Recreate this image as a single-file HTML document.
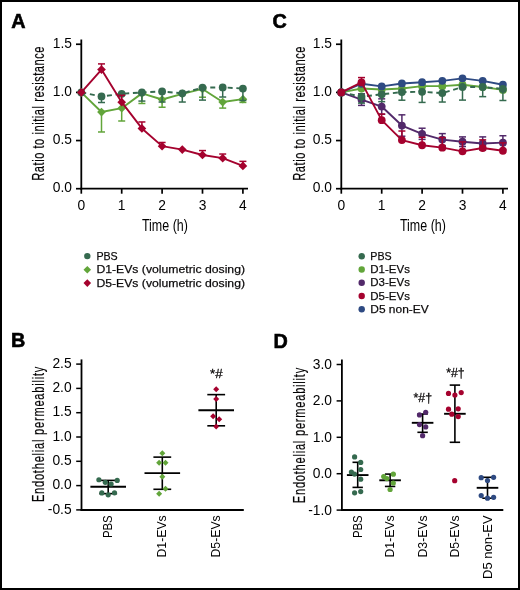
<!DOCTYPE html>
<html><head><meta charset="utf-8"><title>Figure</title>
<style>html,body{margin:0;padding:0;background:#fff;width:520px;height:590px;overflow:hidden;}svg{display:block;will-change:transform;font-family:"Liberation Sans", sans-serif;}</style>
</head><body>
<svg width="520" height="590" viewBox="0 0 520 590" font-family='"Liberation Sans", sans-serif'>
<rect x="1" y="1" width="518" height="588" fill="#fff" stroke="#000" stroke-width="2"/>
<text x="11.30" y="27.70" font-size="19.8" text-anchor="start" font-weight="bold" fill="#000" stroke="#000" stroke-width="0.6">A</text>
<line x1="81.30" y1="39.50" x2="81.30" y2="189.60" stroke="#000" stroke-width="1.8"/>
<line x1="80.40" y1="188.70" x2="248.00" y2="188.70" stroke="#000" stroke-width="1.8"/>
<line x1="76.00" y1="188.70" x2="81.30" y2="188.70" stroke="#000" stroke-width="1.7"/>
<text x="71.90" y="192.40" font-size="13.8" text-anchor="end">0.0</text>
<line x1="76.00" y1="140.55" x2="81.30" y2="140.55" stroke="#000" stroke-width="1.7"/>
<text x="71.90" y="144.25" font-size="13.8" text-anchor="end">0.5</text>
<line x1="76.00" y1="92.40" x2="81.30" y2="92.40" stroke="#000" stroke-width="1.7"/>
<text x="71.90" y="96.10" font-size="13.8" text-anchor="end">1.0</text>
<line x1="76.00" y1="44.25" x2="81.30" y2="44.25" stroke="#000" stroke-width="1.7"/>
<text x="71.90" y="47.95" font-size="13.8" text-anchor="end">1.5</text>
<line x1="81.30" y1="188.70" x2="81.30" y2="193.70" stroke="#000" stroke-width="1.7"/>
<text x="81.30" y="210.10" font-size="13.8" text-anchor="middle">0</text>
<line x1="121.70" y1="188.70" x2="121.70" y2="193.70" stroke="#000" stroke-width="1.7"/>
<text x="121.70" y="210.10" font-size="13.8" text-anchor="middle">1</text>
<line x1="162.10" y1="188.70" x2="162.10" y2="193.70" stroke="#000" stroke-width="1.7"/>
<text x="162.10" y="210.10" font-size="13.8" text-anchor="middle">2</text>
<line x1="202.50" y1="188.70" x2="202.50" y2="193.70" stroke="#000" stroke-width="1.7"/>
<text x="202.50" y="210.10" font-size="13.8" text-anchor="middle">3</text>
<line x1="242.90" y1="188.70" x2="242.90" y2="193.70" stroke="#000" stroke-width="1.7"/>
<text x="242.90" y="210.10" font-size="13.8" text-anchor="middle">4</text>
<text x="164.90" y="231.00" font-size="15.8" text-anchor="middle" textLength="46" lengthAdjust="spacingAndGlyphs">Time (h)</text>
<g transform="translate(44.20 180.70) rotate(-90) scale(0.7 1)"><text x="0" y="0" font-size="15.8" text-anchor="start" textLength="191.71" lengthAdjust="spacing" stroke="#231f20" stroke-width="0.2">Ratio to initial resistance</text></g>
<line x1="101.50" y1="112.05" x2="101.50" y2="131.98" stroke="#62a53a" stroke-width="1.5"/>
<line x1="98.00" y1="131.98" x2="105.00" y2="131.98" stroke="#62a53a" stroke-width="1.5"/>
<line x1="121.70" y1="108.19" x2="121.70" y2="121.00" stroke="#62a53a" stroke-width="1.5"/>
<line x1="118.20" y1="121.00" x2="125.20" y2="121.00" stroke="#62a53a" stroke-width="1.5"/>
<line x1="141.90" y1="93.36" x2="141.90" y2="103.47" stroke="#62a53a" stroke-width="1.5"/>
<line x1="138.40" y1="103.47" x2="145.40" y2="103.47" stroke="#62a53a" stroke-width="1.5"/>
<line x1="162.10" y1="99.53" x2="162.10" y2="107.23" stroke="#62a53a" stroke-width="1.5"/>
<line x1="158.60" y1="107.23" x2="165.60" y2="107.23" stroke="#62a53a" stroke-width="1.5"/>
<line x1="202.50" y1="88.93" x2="202.50" y2="97.21" stroke="#62a53a" stroke-width="1.5"/>
<line x1="199.00" y1="97.21" x2="206.00" y2="97.21" stroke="#62a53a" stroke-width="1.5"/>
<line x1="222.70" y1="102.03" x2="222.70" y2="108.10" stroke="#62a53a" stroke-width="1.5"/>
<line x1="219.20" y1="108.10" x2="226.20" y2="108.10" stroke="#62a53a" stroke-width="1.5"/>
<line x1="242.90" y1="99.14" x2="242.90" y2="102.42" stroke="#62a53a" stroke-width="1.5"/>
<line x1="239.40" y1="102.42" x2="246.40" y2="102.42" stroke="#62a53a" stroke-width="1.5"/>
<path d="M81.30 92.40L101.50 112.05L121.70 108.19L141.90 93.36L162.10 99.53L182.30 93.84L202.50 88.93L222.70 102.03L242.90 99.14" fill="none" stroke="#62a53a" stroke-width="1.9" stroke-linejoin="round"/>
<path d="M81.30 88.05L85.65 92.40L81.30 96.75L76.95 92.40Z" fill="#62a53a"/>
<path d="M101.50 107.70L105.85 112.05L101.50 116.40L97.15 112.05Z" fill="#62a53a"/>
<path d="M121.70 103.84L126.05 108.19L121.70 112.54L117.35 108.19Z" fill="#62a53a"/>
<path d="M141.90 89.01L146.25 93.36L141.90 97.71L137.55 93.36Z" fill="#62a53a"/>
<path d="M162.10 95.18L166.45 99.53L162.10 103.88L157.75 99.53Z" fill="#62a53a"/>
<path d="M182.30 89.49L186.65 93.84L182.30 98.19L177.95 93.84Z" fill="#62a53a"/>
<path d="M202.50 84.58L206.85 88.93L202.50 93.28L198.15 88.93Z" fill="#62a53a"/>
<path d="M222.70 97.68L227.05 102.03L222.70 106.38L218.35 102.03Z" fill="#62a53a"/>
<path d="M242.90 94.79L247.25 99.14L242.90 103.49L238.55 99.14Z" fill="#62a53a"/>
<line x1="101.50" y1="96.44" x2="101.50" y2="102.51" stroke="#356a4f" stroke-width="1.5"/>
<line x1="98.00" y1="102.51" x2="105.00" y2="102.51" stroke="#356a4f" stroke-width="1.5"/>
<line x1="141.90" y1="92.40" x2="141.90" y2="101.07" stroke="#356a4f" stroke-width="1.5"/>
<line x1="138.40" y1="101.07" x2="145.40" y2="101.07" stroke="#356a4f" stroke-width="1.5"/>
<line x1="162.10" y1="91.44" x2="162.10" y2="102.03" stroke="#356a4f" stroke-width="1.5"/>
<line x1="158.60" y1="102.03" x2="165.60" y2="102.03" stroke="#356a4f" stroke-width="1.5"/>
<line x1="182.30" y1="93.36" x2="182.30" y2="102.03" stroke="#356a4f" stroke-width="1.5"/>
<line x1="178.80" y1="102.03" x2="185.80" y2="102.03" stroke="#356a4f" stroke-width="1.5"/>
<line x1="202.50" y1="87.58" x2="202.50" y2="100.10" stroke="#356a4f" stroke-width="1.5"/>
<line x1="199.00" y1="100.10" x2="206.00" y2="100.10" stroke="#356a4f" stroke-width="1.5"/>
<line x1="222.70" y1="87.39" x2="222.70" y2="97.02" stroke="#356a4f" stroke-width="1.5"/>
<line x1="219.20" y1="97.02" x2="226.20" y2="97.02" stroke="#356a4f" stroke-width="1.5"/>
<line x1="242.90" y1="88.55" x2="242.90" y2="100.49" stroke="#356a4f" stroke-width="1.5"/>
<line x1="239.40" y1="100.49" x2="246.40" y2="100.49" stroke="#356a4f" stroke-width="1.5"/>
<path d="M81.30 92.40L101.50 96.44L121.70 93.84L141.90 92.40L162.10 91.44L182.30 93.36L202.50 87.58L222.70 87.39L242.90 88.55" fill="none" stroke="#356a4f" stroke-width="1.9" stroke-linejoin="round" stroke-dasharray="5 3.7"/>
<circle cx="81.30" cy="92.40" r="3.9" fill="#356a4f"/>
<circle cx="101.50" cy="96.44" r="3.9" fill="#356a4f"/>
<circle cx="121.70" cy="93.84" r="3.9" fill="#356a4f"/>
<circle cx="141.90" cy="92.40" r="3.9" fill="#356a4f"/>
<circle cx="162.10" cy="91.44" r="3.9" fill="#356a4f"/>
<circle cx="182.30" cy="93.36" r="3.9" fill="#356a4f"/>
<circle cx="202.50" cy="87.58" r="3.9" fill="#356a4f"/>
<circle cx="222.70" cy="87.39" r="3.9" fill="#356a4f"/>
<circle cx="242.90" cy="88.55" r="3.9" fill="#356a4f"/>
<line x1="101.50" y1="69.58" x2="101.50" y2="63.90" stroke="#a5022e" stroke-width="1.5"/>
<line x1="98.00" y1="63.90" x2="105.00" y2="63.90" stroke="#a5022e" stroke-width="1.5"/>
<line x1="121.70" y1="102.13" x2="121.70" y2="95.29" stroke="#a5022e" stroke-width="1.5"/>
<line x1="118.20" y1="95.29" x2="125.20" y2="95.29" stroke="#a5022e" stroke-width="1.5"/>
<line x1="141.90" y1="128.42" x2="141.90" y2="121.96" stroke="#a5022e" stroke-width="1.5"/>
<line x1="138.40" y1="121.96" x2="145.40" y2="121.96" stroke="#a5022e" stroke-width="1.5"/>
<line x1="162.10" y1="146.14" x2="162.10" y2="142.48" stroke="#a5022e" stroke-width="1.5"/>
<line x1="158.60" y1="142.48" x2="165.60" y2="142.48" stroke="#a5022e" stroke-width="1.5"/>
<line x1="202.50" y1="155.00" x2="202.50" y2="150.57" stroke="#a5022e" stroke-width="1.5"/>
<line x1="199.00" y1="150.57" x2="206.00" y2="150.57" stroke="#a5022e" stroke-width="1.5"/>
<line x1="222.70" y1="158.17" x2="222.70" y2="154.03" stroke="#a5022e" stroke-width="1.5"/>
<line x1="219.20" y1="154.03" x2="226.20" y2="154.03" stroke="#a5022e" stroke-width="1.5"/>
<line x1="242.90" y1="165.97" x2="242.90" y2="161.35" stroke="#a5022e" stroke-width="1.5"/>
<line x1="239.40" y1="161.35" x2="246.40" y2="161.35" stroke="#a5022e" stroke-width="1.5"/>
<path d="M81.30 92.40L101.50 69.58L121.70 102.13L141.90 128.42L162.10 146.14L182.30 149.60L202.50 155.00L222.70 158.17L242.90 165.97" fill="none" stroke="#a5022e" stroke-width="1.9" stroke-linejoin="round"/>
<path d="M81.30 88.05L85.65 92.40L81.30 96.75L76.95 92.40Z" fill="#a5022e"/>
<path d="M101.50 65.23L105.85 69.58L101.50 73.93L97.15 69.58Z" fill="#a5022e"/>
<path d="M121.70 97.78L126.05 102.13L121.70 106.48L117.35 102.13Z" fill="#a5022e"/>
<path d="M141.90 124.07L146.25 128.42L141.90 132.77L137.55 128.42Z" fill="#a5022e"/>
<path d="M162.10 141.79L166.45 146.14L162.10 150.49L157.75 146.14Z" fill="#a5022e"/>
<path d="M182.30 145.25L186.65 149.60L182.30 153.95L177.95 149.60Z" fill="#a5022e"/>
<path d="M202.50 150.65L206.85 155.00L202.50 159.34L198.15 155.00Z" fill="#a5022e"/>
<path d="M222.70 153.82L227.05 158.17L222.70 162.52L218.35 158.17Z" fill="#a5022e"/>
<path d="M242.90 161.62L247.25 165.97L242.90 170.32L238.55 165.97Z" fill="#a5022e"/>
<text x="272.50" y="27.70" font-size="19.8" text-anchor="start" font-weight="bold" fill="#000" stroke="#000" stroke-width="0.6">C</text>
<line x1="341.30" y1="39.50" x2="341.30" y2="189.60" stroke="#000" stroke-width="1.8"/>
<line x1="340.40" y1="188.70" x2="508.00" y2="188.70" stroke="#000" stroke-width="1.8"/>
<line x1="336.00" y1="188.70" x2="341.30" y2="188.70" stroke="#000" stroke-width="1.7"/>
<text x="331.90" y="192.40" font-size="13.8" text-anchor="end">0.0</text>
<line x1="336.00" y1="140.55" x2="341.30" y2="140.55" stroke="#000" stroke-width="1.7"/>
<text x="331.90" y="144.25" font-size="13.8" text-anchor="end">0.5</text>
<line x1="336.00" y1="92.40" x2="341.30" y2="92.40" stroke="#000" stroke-width="1.7"/>
<text x="331.90" y="96.10" font-size="13.8" text-anchor="end">1.0</text>
<line x1="336.00" y1="44.25" x2="341.30" y2="44.25" stroke="#000" stroke-width="1.7"/>
<text x="331.90" y="47.95" font-size="13.8" text-anchor="end">1.5</text>
<line x1="341.30" y1="188.70" x2="341.30" y2="193.70" stroke="#000" stroke-width="1.7"/>
<text x="341.30" y="210.10" font-size="13.8" text-anchor="middle">0</text>
<line x1="381.70" y1="188.70" x2="381.70" y2="193.70" stroke="#000" stroke-width="1.7"/>
<text x="381.70" y="210.10" font-size="13.8" text-anchor="middle">1</text>
<line x1="422.10" y1="188.70" x2="422.10" y2="193.70" stroke="#000" stroke-width="1.7"/>
<text x="422.10" y="210.10" font-size="13.8" text-anchor="middle">2</text>
<line x1="462.50" y1="188.70" x2="462.50" y2="193.70" stroke="#000" stroke-width="1.7"/>
<text x="462.50" y="210.10" font-size="13.8" text-anchor="middle">3</text>
<line x1="502.90" y1="188.70" x2="502.90" y2="193.70" stroke="#000" stroke-width="1.7"/>
<text x="502.90" y="210.10" font-size="13.8" text-anchor="middle">4</text>
<text x="422.90" y="231.00" font-size="15.8" text-anchor="middle" textLength="46" lengthAdjust="spacingAndGlyphs">Time (h)</text>
<g transform="translate(304.90 180.70) rotate(-90) scale(0.7 1)"><text x="0" y="0" font-size="15.8" text-anchor="start" textLength="191.71" lengthAdjust="spacing" stroke="#231f20" stroke-width="0.2">Ratio to initial resistance</text></g>
<path d="M341.30 92.40L361.50 88.55L381.70 89.51L401.90 88.55L422.10 86.14L442.30 86.14L462.50 84.70L482.70 87.01L502.90 89.90" fill="none" stroke="#62a53a" stroke-width="1.9" stroke-linejoin="round"/>
<circle cx="341.30" cy="92.40" r="3.9" fill="#62a53a"/>
<circle cx="361.50" cy="88.55" r="3.9" fill="#62a53a"/>
<circle cx="381.70" cy="89.51" r="3.9" fill="#62a53a"/>
<circle cx="401.90" cy="88.55" r="3.9" fill="#62a53a"/>
<circle cx="422.10" cy="86.14" r="3.9" fill="#62a53a"/>
<circle cx="442.30" cy="86.14" r="3.9" fill="#62a53a"/>
<circle cx="462.50" cy="84.70" r="3.9" fill="#62a53a"/>
<circle cx="482.70" cy="87.01" r="3.9" fill="#62a53a"/>
<circle cx="502.90" cy="89.90" r="3.9" fill="#62a53a"/>
<path d="M341.30 92.40L361.50 83.73L381.70 86.43L401.90 83.44L422.10 82.19L442.30 80.84L462.50 78.34L482.70 80.84L502.90 84.70" fill="none" stroke="#2e4a82" stroke-width="1.9" stroke-linejoin="round"/>
<circle cx="341.30" cy="92.40" r="3.9" fill="#2e4a82"/>
<circle cx="361.50" cy="83.73" r="3.9" fill="#2e4a82"/>
<circle cx="381.70" cy="86.43" r="3.9" fill="#2e4a82"/>
<circle cx="401.90" cy="83.44" r="3.9" fill="#2e4a82"/>
<circle cx="422.10" cy="82.19" r="3.9" fill="#2e4a82"/>
<circle cx="442.30" cy="80.84" r="3.9" fill="#2e4a82"/>
<circle cx="462.50" cy="78.34" r="3.9" fill="#2e4a82"/>
<circle cx="482.70" cy="80.84" r="3.9" fill="#2e4a82"/>
<circle cx="502.90" cy="84.70" r="3.9" fill="#2e4a82"/>
<line x1="361.50" y1="93.84" x2="361.50" y2="105.40" stroke="#52296a" stroke-width="1.5"/>
<line x1="358.00" y1="93.84" x2="365.00" y2="93.84" stroke="#52296a" stroke-width="1.5"/>
<line x1="358.00" y1="105.40" x2="365.00" y2="105.40" stroke="#52296a" stroke-width="1.5"/>
<line x1="381.70" y1="98.85" x2="381.70" y2="114.26" stroke="#52296a" stroke-width="1.5"/>
<line x1="378.20" y1="98.85" x2="385.20" y2="98.85" stroke="#52296a" stroke-width="1.5"/>
<line x1="378.20" y1="114.26" x2="385.20" y2="114.26" stroke="#52296a" stroke-width="1.5"/>
<line x1="401.90" y1="114.84" x2="401.90" y2="136.22" stroke="#52296a" stroke-width="1.5"/>
<line x1="398.40" y1="114.84" x2="405.40" y2="114.84" stroke="#52296a" stroke-width="1.5"/>
<line x1="398.40" y1="136.22" x2="405.40" y2="136.22" stroke="#52296a" stroke-width="1.5"/>
<line x1="422.10" y1="128.22" x2="422.10" y2="139.39" stroke="#52296a" stroke-width="1.5"/>
<line x1="418.60" y1="128.22" x2="425.60" y2="128.22" stroke="#52296a" stroke-width="1.5"/>
<line x1="418.60" y1="139.39" x2="425.60" y2="139.39" stroke="#52296a" stroke-width="1.5"/>
<line x1="442.30" y1="133.62" x2="442.30" y2="145.56" stroke="#52296a" stroke-width="1.5"/>
<line x1="438.80" y1="133.62" x2="445.80" y2="133.62" stroke="#52296a" stroke-width="1.5"/>
<line x1="438.80" y1="145.56" x2="445.80" y2="145.56" stroke="#52296a" stroke-width="1.5"/>
<line x1="462.50" y1="136.89" x2="462.50" y2="146.52" stroke="#52296a" stroke-width="1.5"/>
<line x1="459.00" y1="136.89" x2="466.00" y2="136.89" stroke="#52296a" stroke-width="1.5"/>
<line x1="459.00" y1="146.52" x2="466.00" y2="146.52" stroke="#52296a" stroke-width="1.5"/>
<line x1="482.70" y1="136.89" x2="482.70" y2="149.99" stroke="#52296a" stroke-width="1.5"/>
<line x1="479.20" y1="136.89" x2="486.20" y2="136.89" stroke="#52296a" stroke-width="1.5"/>
<line x1="479.20" y1="149.99" x2="486.20" y2="149.99" stroke="#52296a" stroke-width="1.5"/>
<line x1="502.90" y1="135.74" x2="502.90" y2="149.60" stroke="#52296a" stroke-width="1.5"/>
<line x1="499.40" y1="135.74" x2="506.40" y2="135.74" stroke="#52296a" stroke-width="1.5"/>
<line x1="499.40" y1="149.60" x2="506.40" y2="149.60" stroke="#52296a" stroke-width="1.5"/>
<path d="M341.30 92.40L361.50 99.62L381.70 106.56L401.90 125.53L422.10 133.81L442.30 139.59L462.50 141.71L482.70 143.44L502.90 142.67" fill="none" stroke="#52296a" stroke-width="1.9" stroke-linejoin="round"/>
<circle cx="341.30" cy="92.40" r="3.9" fill="#52296a"/>
<circle cx="361.50" cy="99.62" r="3.9" fill="#52296a"/>
<circle cx="381.70" cy="106.56" r="3.9" fill="#52296a"/>
<circle cx="401.90" cy="125.53" r="3.9" fill="#52296a"/>
<circle cx="422.10" cy="133.81" r="3.9" fill="#52296a"/>
<circle cx="442.30" cy="139.59" r="3.9" fill="#52296a"/>
<circle cx="462.50" cy="141.71" r="3.9" fill="#52296a"/>
<circle cx="482.70" cy="143.44" r="3.9" fill="#52296a"/>
<circle cx="502.90" cy="142.67" r="3.9" fill="#52296a"/>
<line x1="361.50" y1="96.64" x2="361.50" y2="103.09" stroke="#356a4f" stroke-width="1.5"/>
<line x1="358.00" y1="103.09" x2="365.00" y2="103.09" stroke="#356a4f" stroke-width="1.5"/>
<line x1="381.70" y1="94.33" x2="381.70" y2="101.64" stroke="#356a4f" stroke-width="1.5"/>
<line x1="378.20" y1="101.64" x2="385.20" y2="101.64" stroke="#356a4f" stroke-width="1.5"/>
<line x1="401.90" y1="92.11" x2="401.90" y2="100.20" stroke="#356a4f" stroke-width="1.5"/>
<line x1="398.40" y1="100.20" x2="405.40" y2="100.20" stroke="#356a4f" stroke-width="1.5"/>
<line x1="422.10" y1="91.82" x2="422.10" y2="102.42" stroke="#356a4f" stroke-width="1.5"/>
<line x1="418.60" y1="102.42" x2="425.60" y2="102.42" stroke="#356a4f" stroke-width="1.5"/>
<line x1="442.30" y1="93.07" x2="442.30" y2="102.03" stroke="#356a4f" stroke-width="1.5"/>
<line x1="438.80" y1="102.03" x2="445.80" y2="102.03" stroke="#356a4f" stroke-width="1.5"/>
<line x1="462.50" y1="87.01" x2="462.50" y2="100.10" stroke="#356a4f" stroke-width="1.5"/>
<line x1="459.00" y1="100.10" x2="466.00" y2="100.10" stroke="#356a4f" stroke-width="1.5"/>
<line x1="482.70" y1="87.01" x2="482.70" y2="96.64" stroke="#356a4f" stroke-width="1.5"/>
<line x1="479.20" y1="96.64" x2="486.20" y2="96.64" stroke="#356a4f" stroke-width="1.5"/>
<line x1="502.90" y1="88.93" x2="502.90" y2="100.49" stroke="#356a4f" stroke-width="1.5"/>
<line x1="499.40" y1="100.49" x2="506.40" y2="100.49" stroke="#356a4f" stroke-width="1.5"/>
<path d="M341.30 92.40L361.50 96.64L381.70 94.33L401.90 92.11L422.10 91.82L442.30 93.07L462.50 87.01L482.70 87.01L502.90 88.93" fill="none" stroke="#356a4f" stroke-width="1.9" stroke-linejoin="round" stroke-dasharray="5 3.7"/>
<circle cx="341.30" cy="92.40" r="3.9" fill="#356a4f"/>
<circle cx="361.50" cy="96.64" r="3.9" fill="#356a4f"/>
<circle cx="381.70" cy="94.33" r="3.9" fill="#356a4f"/>
<circle cx="401.90" cy="92.11" r="3.9" fill="#356a4f"/>
<circle cx="422.10" cy="91.82" r="3.9" fill="#356a4f"/>
<circle cx="442.30" cy="93.07" r="3.9" fill="#356a4f"/>
<circle cx="462.50" cy="87.01" r="3.9" fill="#356a4f"/>
<circle cx="482.70" cy="87.01" r="3.9" fill="#356a4f"/>
<circle cx="502.90" cy="88.93" r="3.9" fill="#356a4f"/>
<line x1="361.50" y1="82.38" x2="361.50" y2="77.57" stroke="#a5022e" stroke-width="1.5"/>
<line x1="358.00" y1="77.57" x2="365.00" y2="77.57" stroke="#a5022e" stroke-width="1.5"/>
<line x1="381.70" y1="120.13" x2="381.70" y2="114.07" stroke="#a5022e" stroke-width="1.5"/>
<line x1="378.20" y1="114.07" x2="385.20" y2="114.07" stroke="#a5022e" stroke-width="1.5"/>
<line x1="401.90" y1="140.07" x2="401.90" y2="131.02" stroke="#a5022e" stroke-width="1.5"/>
<line x1="398.40" y1="131.02" x2="405.40" y2="131.02" stroke="#a5022e" stroke-width="1.5"/>
<line x1="422.10" y1="145.27" x2="422.10" y2="137.28" stroke="#a5022e" stroke-width="1.5"/>
<line x1="418.60" y1="137.28" x2="425.60" y2="137.28" stroke="#a5022e" stroke-width="1.5"/>
<line x1="442.30" y1="147.68" x2="442.30" y2="137.47" stroke="#a5022e" stroke-width="1.5"/>
<line x1="438.80" y1="137.47" x2="445.80" y2="137.47" stroke="#a5022e" stroke-width="1.5"/>
<line x1="462.50" y1="151.34" x2="462.50" y2="141.90" stroke="#a5022e" stroke-width="1.5"/>
<line x1="459.00" y1="141.90" x2="466.00" y2="141.90" stroke="#a5022e" stroke-width="1.5"/>
<line x1="482.70" y1="148.06" x2="482.70" y2="139.88" stroke="#a5022e" stroke-width="1.5"/>
<line x1="479.20" y1="139.88" x2="486.20" y2="139.88" stroke="#a5022e" stroke-width="1.5"/>
<line x1="502.90" y1="150.76" x2="502.90" y2="142.86" stroke="#a5022e" stroke-width="1.5"/>
<line x1="499.40" y1="142.86" x2="506.40" y2="142.86" stroke="#a5022e" stroke-width="1.5"/>
<path d="M341.30 92.40L361.50 82.38L381.70 120.13L401.90 140.07L422.10 145.27L442.30 147.68L462.50 151.34L482.70 148.06L502.90 150.76" fill="none" stroke="#a5022e" stroke-width="1.9" stroke-linejoin="round"/>
<circle cx="341.30" cy="92.40" r="3.9" fill="#a5022e"/>
<circle cx="361.50" cy="82.38" r="3.9" fill="#a5022e"/>
<circle cx="381.70" cy="120.13" r="3.9" fill="#a5022e"/>
<circle cx="401.90" cy="140.07" r="3.9" fill="#a5022e"/>
<circle cx="422.10" cy="145.27" r="3.9" fill="#a5022e"/>
<circle cx="442.30" cy="147.68" r="3.9" fill="#a5022e"/>
<circle cx="462.50" cy="151.34" r="3.9" fill="#a5022e"/>
<circle cx="482.70" cy="148.06" r="3.9" fill="#a5022e"/>
<circle cx="502.90" cy="150.76" r="3.9" fill="#a5022e"/>
<circle cx="87.30" cy="256.10" r="3.2" fill="#356a4f"/>
<text x="96.40" y="259.80" font-size="11.8" text-anchor="start" textLength="21.3" lengthAdjust="spacingAndGlyphs" stroke="#231f20" stroke-width="0.25">PBS</text>
<path d="M87.30 265.95L91.10 269.75L87.30 273.55L83.50 269.75Z" fill="#62a53a"/>
<text x="96.40" y="273.15" font-size="11.8" text-anchor="start" textLength="148.6" lengthAdjust="spacingAndGlyphs" stroke="#231f20" stroke-width="0.25">D1-EVs (volumetric dosing)</text>
<path d="M87.30 279.30L91.10 283.10L87.30 286.90L83.50 283.10Z" fill="#a5022e"/>
<text x="96.40" y="286.50" font-size="11.8" text-anchor="start" textLength="148.6" lengthAdjust="spacingAndGlyphs" stroke="#231f20" stroke-width="0.25">D5-EVs (volumetric dosing)</text>
<circle cx="361.70" cy="256.30" r="3.2" fill="#356a4f"/>
<text x="370.30" y="260.00" font-size="11.8" text-anchor="start" textLength="21.3" lengthAdjust="spacingAndGlyphs" stroke="#231f20" stroke-width="0.25">PBS</text>
<circle cx="361.70" cy="269.52" r="3.2" fill="#62a53a"/>
<text x="370.30" y="273.22" font-size="11.8" text-anchor="start" textLength="39.6" lengthAdjust="spacingAndGlyphs" stroke="#231f20" stroke-width="0.25">D1-EVs</text>
<circle cx="361.70" cy="282.74" r="3.2" fill="#52296a"/>
<text x="370.30" y="286.44" font-size="11.8" text-anchor="start" textLength="39.6" lengthAdjust="spacingAndGlyphs" stroke="#231f20" stroke-width="0.25">D3-EVs</text>
<circle cx="361.70" cy="295.96" r="3.2" fill="#a5022e"/>
<text x="370.30" y="299.66" font-size="11.8" text-anchor="start" textLength="39.6" lengthAdjust="spacingAndGlyphs" stroke="#231f20" stroke-width="0.25">D5-EVs</text>
<circle cx="361.70" cy="309.18" r="3.2" fill="#2e4a82"/>
<text x="370.30" y="312.88" font-size="11.8" text-anchor="start" textLength="58.4" lengthAdjust="spacingAndGlyphs" stroke="#231f20" stroke-width="0.25">D5 non-EV</text>
<text x="10.90" y="347.30" font-size="19.8" text-anchor="start" font-weight="bold" fill="#000" stroke="#000" stroke-width="0.6">B</text>
<line x1="81.50" y1="359.40" x2="81.50" y2="510.90" stroke="#000" stroke-width="1.8"/>
<line x1="80.60" y1="510.00" x2="243.80" y2="510.00" stroke="#000" stroke-width="1.8"/>
<line x1="76.20" y1="364.10" x2="81.50" y2="364.10" stroke="#000" stroke-width="1.5"/>
<text x="71.60" y="367.80" font-size="13.8" text-anchor="end">2.5</text>
<line x1="76.20" y1="388.40" x2="81.50" y2="388.40" stroke="#000" stroke-width="1.5"/>
<text x="71.60" y="392.10" font-size="13.8" text-anchor="end">2.0</text>
<line x1="76.20" y1="412.70" x2="81.50" y2="412.70" stroke="#000" stroke-width="1.5"/>
<text x="71.60" y="416.40" font-size="13.8" text-anchor="end">1.5</text>
<line x1="76.20" y1="437.00" x2="81.50" y2="437.00" stroke="#000" stroke-width="1.5"/>
<text x="71.60" y="440.70" font-size="13.8" text-anchor="end">1.0</text>
<line x1="76.20" y1="461.30" x2="81.50" y2="461.30" stroke="#000" stroke-width="1.5"/>
<text x="71.60" y="465.00" font-size="13.8" text-anchor="end">0.5</text>
<line x1="76.20" y1="485.60" x2="81.50" y2="485.60" stroke="#000" stroke-width="1.5"/>
<text x="71.60" y="489.30" font-size="13.8" text-anchor="end">0.0</text>
<line x1="76.20" y1="509.90" x2="81.50" y2="509.90" stroke="#000" stroke-width="1.5"/>
<text x="71.60" y="513.60" font-size="13.8" text-anchor="end">-0.5</text>
<g transform="translate(44.10 502.10) rotate(-90) scale(0.7 1)"><text x="0" y="0" font-size="15.8" text-anchor="start" textLength="193.43" lengthAdjust="spacing" stroke="#231f20" stroke-width="0.2">Endothelial permeability</text></g>
<line x1="108.20" y1="480.40" x2="108.20" y2="493.62" stroke="#000" stroke-width="1.6"/>
<line x1="99.30" y1="480.40" x2="117.10" y2="480.40" stroke="#000" stroke-width="1.6"/>
<line x1="99.30" y1="493.62" x2="117.10" y2="493.62" stroke="#000" stroke-width="1.6"/>
<line x1="90.40" y1="486.81" x2="126.00" y2="486.81" stroke="#000" stroke-width="1.9"/>
<circle cx="98.90" cy="479.77" r="2.6" fill="#356a4f"/>
<circle cx="105.30" cy="482.30" r="2.6" fill="#356a4f"/>
<circle cx="117.20" cy="480.40" r="2.6" fill="#356a4f"/>
<circle cx="111.10" cy="484.00" r="2.6" fill="#356a4f"/>
<circle cx="101.80" cy="492.89" r="2.6" fill="#356a4f"/>
<circle cx="108.20" cy="494.83" r="2.6" fill="#356a4f"/>
<circle cx="114.50" cy="492.84" r="2.6" fill="#356a4f"/>
<text x="112.50" y="515.30" font-size="13.0" text-anchor="end" textLength="22.8" lengthAdjust="spacingAndGlyphs" transform="rotate(-90 112.50 515.30)">PBS</text>
<line x1="162.30" y1="457.12" x2="162.30" y2="489.29" stroke="#000" stroke-width="1.6"/>
<line x1="153.40" y1="457.12" x2="171.20" y2="457.12" stroke="#000" stroke-width="1.6"/>
<line x1="153.40" y1="489.29" x2="171.20" y2="489.29" stroke="#000" stroke-width="1.6"/>
<line x1="144.50" y1="473.11" x2="180.10" y2="473.11" stroke="#000" stroke-width="1.9"/>
<path d="M162.30 450.28L165.30 453.28L162.30 456.28L159.30 453.28Z" fill="#62a53a"/>
<path d="M159.10 459.81L162.10 462.81L159.10 465.81L156.10 462.81Z" fill="#62a53a"/>
<path d="M165.50 459.81L168.50 462.81L165.50 465.81L162.50 462.81Z" fill="#62a53a"/>
<path d="M162.30 473.85L165.30 476.85L162.30 479.85L159.30 476.85Z" fill="#62a53a"/>
<path d="M165.50 485.66L168.50 488.66L165.50 491.66L162.50 488.66Z" fill="#62a53a"/>
<path d="M159.10 490.86L162.10 493.86L159.10 496.86L156.10 493.86Z" fill="#62a53a"/>
<text x="165.70" y="515.30" font-size="13.0" text-anchor="end" textLength="42.2" lengthAdjust="spacingAndGlyphs" transform="rotate(-90 165.70 515.30)">D1-EVs</text>
<line x1="216.20" y1="394.62" x2="216.20" y2="425.82" stroke="#000" stroke-width="1.6"/>
<line x1="207.30" y1="394.62" x2="225.10" y2="394.62" stroke="#000" stroke-width="1.6"/>
<line x1="207.30" y1="425.82" x2="225.10" y2="425.82" stroke="#000" stroke-width="1.6"/>
<line x1="198.40" y1="410.22" x2="234.00" y2="410.22" stroke="#000" stroke-width="1.9"/>
<path d="M216.20 386.18L219.20 389.18L216.20 392.18L213.20 389.18Z" fill="#a5022e"/>
<path d="M216.20 395.90L219.20 398.90L216.20 401.90L213.20 398.90Z" fill="#a5022e"/>
<path d="M213.10 413.30L216.10 416.30L213.10 419.30L210.10 416.30Z" fill="#a5022e"/>
<path d="M219.20 416.31L222.20 419.31L219.20 422.31L216.20 419.31Z" fill="#a5022e"/>
<path d="M216.20 423.41L219.20 426.41L216.20 429.41L213.20 426.41Z" fill="#a5022e"/>
<text x="219.70" y="515.30" font-size="13.0" text-anchor="end" textLength="42.2" lengthAdjust="spacingAndGlyphs" transform="rotate(-90 219.70 515.30)">D5-EVs</text>
<text x="210.10" y="377.90" font-size="12.4" text-anchor="start" textLength="12.5" lengthAdjust="spacingAndGlyphs" stroke="#231f20" stroke-width="0.3">*#</text>
<text x="273.50" y="347.90" font-size="19.8" text-anchor="start" font-weight="bold" fill="#000" stroke="#000" stroke-width="0.6">D</text>
<line x1="341.90" y1="359.40" x2="341.90" y2="510.90" stroke="#000" stroke-width="1.8"/>
<line x1="341.00" y1="510.00" x2="503.30" y2="510.00" stroke="#000" stroke-width="1.8"/>
<line x1="336.60" y1="364.50" x2="341.90" y2="364.50" stroke="#000" stroke-width="1.5"/>
<text x="332.00" y="368.90" font-size="13.8" text-anchor="end">3.0</text>
<line x1="336.60" y1="400.90" x2="341.90" y2="400.90" stroke="#000" stroke-width="1.5"/>
<text x="332.00" y="405.30" font-size="13.8" text-anchor="end">2.0</text>
<line x1="336.60" y1="437.30" x2="341.90" y2="437.30" stroke="#000" stroke-width="1.5"/>
<text x="332.00" y="441.70" font-size="13.8" text-anchor="end">1.0</text>
<line x1="336.60" y1="473.70" x2="341.90" y2="473.70" stroke="#000" stroke-width="1.5"/>
<text x="332.00" y="478.10" font-size="13.8" text-anchor="end">0.0</text>
<line x1="336.60" y1="510.10" x2="341.90" y2="510.10" stroke="#000" stroke-width="1.5"/>
<text x="332.00" y="514.50" font-size="13.8" text-anchor="end">-1.0</text>
<g transform="translate(304.50 503.20) rotate(-90) scale(0.7 1)"><text x="0" y="0" font-size="15.8" text-anchor="start" textLength="193.43" lengthAdjust="spacing" stroke="#231f20" stroke-width="0.2">Endothelial permeability</text></g>
<line x1="357.70" y1="462.31" x2="357.70" y2="487.39" stroke="#000" stroke-width="1.6"/>
<line x1="352.50" y1="462.31" x2="362.90" y2="462.31" stroke="#000" stroke-width="1.6"/>
<line x1="352.50" y1="487.39" x2="362.90" y2="487.39" stroke="#000" stroke-width="1.6"/>
<line x1="346.90" y1="475.08" x2="368.50" y2="475.08" stroke="#000" stroke-width="1.9"/>
<circle cx="354.60" cy="456.96" r="2.6" fill="#356a4f"/>
<circle cx="360.70" cy="462.42" r="2.6" fill="#356a4f"/>
<circle cx="360.70" cy="469.51" r="2.6" fill="#356a4f"/>
<circle cx="351.40" cy="471.99" r="2.6" fill="#356a4f"/>
<circle cx="354.50" cy="474.06" r="2.6" fill="#356a4f"/>
<circle cx="360.70" cy="479.20" r="2.6" fill="#356a4f"/>
<circle cx="354.60" cy="492.81" r="2.6" fill="#356a4f"/>
<circle cx="360.70" cy="491.54" r="2.6" fill="#356a4f"/>
<text x="362.00" y="515.30" font-size="13.0" text-anchor="end" textLength="22.8" lengthAdjust="spacingAndGlyphs" transform="rotate(-90 362.00 515.30)">PBS</text>
<line x1="390.10" y1="474.10" x2="390.10" y2="486.44" stroke="#000" stroke-width="1.6"/>
<line x1="384.90" y1="474.10" x2="395.30" y2="474.10" stroke="#000" stroke-width="1.6"/>
<line x1="384.90" y1="486.44" x2="395.30" y2="486.44" stroke="#000" stroke-width="1.6"/>
<line x1="379.30" y1="480.29" x2="400.90" y2="480.29" stroke="#000" stroke-width="1.9"/>
<circle cx="393.30" cy="474.21" r="2.6" fill="#62a53a"/>
<circle cx="383.70" cy="476.50" r="2.6" fill="#62a53a"/>
<circle cx="386.80" cy="478.61" r="2.6" fill="#62a53a"/>
<circle cx="393.30" cy="482.98" r="2.6" fill="#62a53a"/>
<circle cx="390.10" cy="489.50" r="2.6" fill="#62a53a"/>
<text x="394.40" y="515.30" font-size="13.0" text-anchor="end" textLength="42.2" lengthAdjust="spacingAndGlyphs" transform="rotate(-90 394.40 515.30)">D1-EVs</text>
<line x1="422.60" y1="414.00" x2="422.60" y2="432.31" stroke="#000" stroke-width="1.6"/>
<line x1="417.40" y1="414.00" x2="427.80" y2="414.00" stroke="#000" stroke-width="1.6"/>
<line x1="417.40" y1="432.31" x2="427.80" y2="432.31" stroke="#000" stroke-width="1.6"/>
<line x1="411.80" y1="422.81" x2="433.40" y2="422.81" stroke="#000" stroke-width="1.9"/>
<circle cx="425.70" cy="412.29" r="2.6" fill="#52296a"/>
<circle cx="419.50" cy="414.91" r="2.6" fill="#52296a"/>
<circle cx="419.50" cy="424.60" r="2.6" fill="#52296a"/>
<circle cx="425.70" cy="426.89" r="2.6" fill="#52296a"/>
<circle cx="422.60" cy="435.70" r="2.6" fill="#52296a"/>
<text x="426.90" y="515.30" font-size="13.0" text-anchor="end" textLength="42.2" lengthAdjust="spacingAndGlyphs" transform="rotate(-90 426.90 515.30)">D3-EVs</text>
<text x="413.50" y="402.30" font-size="12.4" text-anchor="start" textLength="18.5" lengthAdjust="spacingAndGlyphs" stroke="#231f20" stroke-width="0.3">*#†</text>
<line x1="454.90" y1="385.10" x2="454.90" y2="442.29" stroke="#000" stroke-width="1.6"/>
<line x1="449.70" y1="385.10" x2="460.10" y2="385.10" stroke="#000" stroke-width="1.6"/>
<line x1="449.70" y1="442.29" x2="460.10" y2="442.29" stroke="#000" stroke-width="1.6"/>
<line x1="444.10" y1="413.79" x2="465.70" y2="413.79" stroke="#000" stroke-width="1.9"/>
<circle cx="448.50" cy="393.40" r="2.6" fill="#a5022e"/>
<circle cx="454.90" cy="395.11" r="2.6" fill="#a5022e"/>
<circle cx="461.20" cy="392.60" r="2.6" fill="#a5022e"/>
<circle cx="448.50" cy="409.20" r="2.6" fill="#a5022e"/>
<circle cx="458.20" cy="408.80" r="2.6" fill="#a5022e"/>
<circle cx="451.80" cy="414.19" r="2.6" fill="#a5022e"/>
<circle cx="458.20" cy="416.59" r="2.6" fill="#a5022e"/>
<circle cx="454.70" cy="480.69" r="2.6" fill="#a5022e"/>
<text x="459.20" y="515.30" font-size="13.0" text-anchor="end" textLength="42.2" lengthAdjust="spacingAndGlyphs" transform="rotate(-90 459.20 515.30)">D5-EVs</text>
<text x="446.20" y="376.60" font-size="12.4" text-anchor="start" textLength="18.5" lengthAdjust="spacingAndGlyphs" stroke="#231f20" stroke-width="0.3">*#†</text>
<line x1="487.50" y1="477.30" x2="487.50" y2="498.20" stroke="#000" stroke-width="1.6"/>
<line x1="482.30" y1="477.30" x2="492.70" y2="477.30" stroke="#000" stroke-width="1.6"/>
<line x1="482.30" y1="498.20" x2="492.70" y2="498.20" stroke="#000" stroke-width="1.6"/>
<line x1="476.70" y1="487.82" x2="498.30" y2="487.82" stroke="#000" stroke-width="1.9"/>
<circle cx="481.20" cy="477.70" r="2.6" fill="#2e4a82"/>
<circle cx="493.60" cy="477.30" r="2.6" fill="#2e4a82"/>
<circle cx="487.50" cy="480.51" r="2.6" fill="#2e4a82"/>
<circle cx="481.20" cy="495.58" r="2.6" fill="#2e4a82"/>
<circle cx="487.50" cy="498.20" r="2.6" fill="#2e4a82"/>
<circle cx="493.60" cy="497.29" r="2.6" fill="#2e4a82"/>
<text x="491.80" y="515.30" font-size="13.0" text-anchor="end" textLength="63.6" lengthAdjust="spacingAndGlyphs" transform="rotate(-90 491.80 515.30)">D5 non-EV</text>
</svg>
</body></html>
